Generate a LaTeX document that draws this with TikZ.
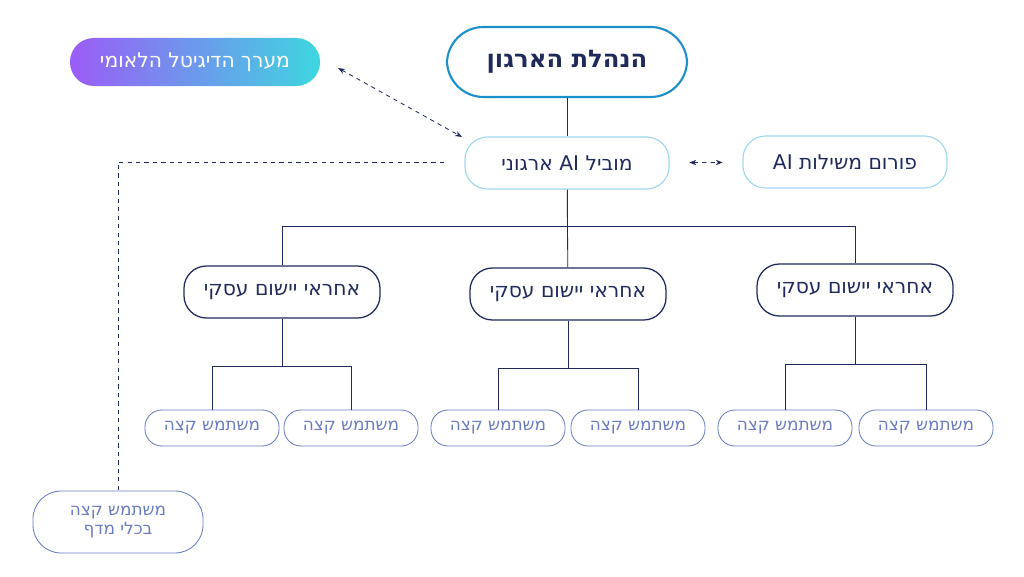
\documentclass[tikz,border=0pt]{standalone}
\usepackage{fontspec}
\setmainfont{DejaVu Sans}
\usetikzlibrary{positioning,arrows.meta}
\TeXXeTstate=1
\newcommand{\heb}[1]{\beginR #1\endR}
\newcommand{\lat}[1]{\beginL #1\endL}
\definecolor{navy}{HTML}{1F2A5A}
\definecolor{topblue}{HTML}{1A8FC9}
\definecolor{lightblue}{HTML}{9ED8F0}
\definecolor{leafblue}{HTML}{6A7BC0}
\definecolor{gradpurple}{HTML}{9B5CF6}
\definecolor{gradcyan}{HTML}{3ED6E0}
\begin{document}
\begin{tikzpicture}
  [
    x=0.025cm, y=-0.025cm,
    every node/.style = {text=navy},
    pill/.style = {draw, shape=rectangle, rounded corners=16pt, align=center},
    boss/.style = {pill, draw=topblue, line width=1.5pt, minimum width=6cm, minimum height=1.75cm, rounded corners=26pt, font=\LARGE\bfseries},
    lead/.style = {pill, draw=lightblue, line width=0.8pt, minimum width=5.1cm, minimum height=1.3cm, font=\Large},
    owner/.style = {pill, draw=navy, line width=0.9pt, minimum width=4.9cm, minimum height=1.3cm, font=\Large},
    leaf/.style = {pill, draw=leafblue, text=leafblue, line width=0.6pt, minimum width=3.35cm, minimum height=0.9cm, rounded corners=12pt, font=\large},
    link/.style = {draw=navy, line width=0.6pt},
    dashlink/.style = {draw=navy, line width=0.6pt, dashed},
    twoway/.style = {dashlink, arrows={Stealth[length=5pt]}-{Stealth[length=5pt]}},
  ]
  \useasboundingbox (0,0) rectangle (1024,577);

  \node[boss] (org) at (567,62) {\heb{הנהלת הארגון}};
  \node[pill, draw=none, minimum width=6.25cm, minimum height=1.2cm, rounded corners=17pt,
        left color=gradpurple, right color=gradcyan, text=white, font=\Large] (digital) at (195,62) {\heb{מערך הדיגיטל הלאומי}};
  \node[lead] (leader) at (567,163) {\heb{מוביל \lat{AI} ארגוני}};
  \node[lead] (forum) at (845,162) {\heb{פורום משילות \lat{AI}}};

  \node[owner] (own1) at (282,292) {\heb{אחראי יישום עסקי}};
  \node[owner] (own2) at (568,294) {\heb{אחראי יישום עסקי}};
  \node[owner] (own3) at (855,290) {\heb{אחראי יישום עסקי}};

  \node[leaf] (u1) at (212,428) {\heb{משתמש קצה}};
  \node[leaf] (u2) at (351,428) {\heb{משתמש קצה}};
  \node[leaf] (u3) at (498,428) {\heb{משתמש קצה}};
  \node[leaf] (u4) at (638,428) {\heb{משתמש קצה}};
  \node[leaf] (u5) at (785,428) {\heb{משתמש קצה}};
  \node[leaf] (u6) at (926,428) {\heb{משתמש קצה}};

  \node[leaf, minimum width=4.25cm, minimum height=1.55cm, rounded corners=20pt] (shelf) at (118,522) {\heb{משתמש קצה}\\\heb{בכלי מדף}};

  \coordinate (dig) at (338,68);
  \coordinate (lead in) at (462,137);
  \coordinate (lead out) at (444,162);

  \draw[link] (org) -- (leader);
  \draw[link] (leader.south) -- ++(0,37) -| (own1);
  \draw[link] (leader.south) -- ++(0,37) -| (own3);
  \draw[link] (leader) -- (own2);

  \foreach \o/\a/\b in {own1/u1/u2, own2/u3/u4, own3/u5/u6}
  {
    \draw[link] (\o.south) -- ++(0,48) coordinate (\o m);
    \draw[link] (\o m) -| (\a.north);
    \draw[link] (\o m) -| (\b.north);
  }

  \draw[twoway] (dig) -- (lead in);
  \draw[twoway, shorten <=14pt, shorten >=14pt] (leader) -- (forum);
  \draw[dashlink] (lead out) -| (shelf.north);
\end{tikzpicture}
\end{document}
